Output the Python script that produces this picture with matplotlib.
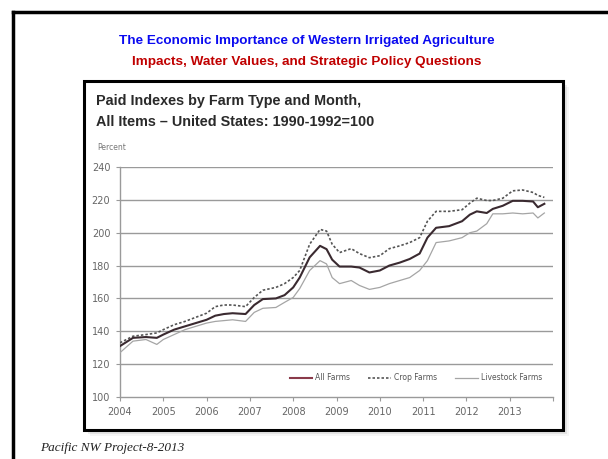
import matplotlib
matplotlib.use("Agg")
import matplotlib.pyplot as plt
from matplotlib.patches import Rectangle
from matplotlib.lines import Line2D

# month positions as decimal years
dates = [2004.0, 2004.3, 2004.6, 2004.85, 2005.0, 2005.25, 2005.5, 2005.75,
         2006.0, 2006.2, 2006.4, 2006.6, 2006.9, 2007.1, 2007.3, 2007.6,
         2007.8, 2008.0, 2008.15, 2008.38, 2008.62, 2008.77, 2008.9, 2009.07,
         2009.34, 2009.53, 2009.76, 2010.0, 2010.22, 2010.46, 2010.69, 2010.92,
         2011.1, 2011.3, 2011.6, 2011.9, 2012.08, 2012.24, 2012.47, 2012.61,
         2012.84, 2013.07, 2013.3, 2013.54, 2013.65, 2013.8]

all_farms = [131, 136, 136.5, 136, 138, 141, 143, 145,
             147, 149.5, 150.5, 151, 150.5, 156, 159.6, 160,
             162, 166.7, 172.7, 185, 192, 190, 183.6, 179.4,
             179.4, 178.8, 175.8, 177, 180, 181.8, 184, 187.3,
             197, 203, 204, 207, 211, 213, 212, 214.5,
             216.4, 219.4, 219.4, 219, 215.5, 217.6]

crop_farms = [133, 137, 138, 139, 141, 144, 146, 148.5,
              151, 155, 156, 156, 155, 160.6, 165, 166.7,
              169, 172.7, 177, 193, 202, 201, 193, 187.9,
              190.3, 187.3, 184.8, 186, 190.3, 192, 194, 197,
              207, 213, 213, 214, 218, 221, 219.6, 219.6,
              221, 225.5, 226, 224.5, 222.7, 221.5]

livestock_farms = [127, 134, 135, 132, 135, 138, 141, 143,
                   145, 146, 146.5, 147, 146, 151.5, 154, 154.5,
                   157.6, 160.6, 166, 177, 183, 181, 172.7, 169,
                   170.9, 167.9, 165.5, 166.7, 169, 170.9, 172.7, 177,
                   183, 194, 195, 197, 200, 201, 205.5, 211.5,
                   211.5, 212, 211.5, 212, 209, 212]

years = list(range(2004, 2015))
year_labels = [str(y) for y in range(2004, 2014)] + [""]
y_ticks = [100, 120, 140, 160, 180, 200, 220, 240]

W, H = 608, 459
fig = plt.figure(figsize=(W / 100, H / 100), dpi=100)
fig.patch.set_facecolor("white")


def fx(x):
    return x / W


def fy(y):
    return 1 - y / H


# slide frame
fig.add_artist(Line2D([fx(13), fx(13)], [fy(12), 0], color="black", lw=2.5))
fig.add_artist(Line2D([fx(13), 1], [fy(12), fy(12)], color="black", lw=2.5))

fig.text(fx(307), fy(41), "The Economic Importance of Western Irrigated Agriculture",
         ha="center", va="center", color="#0a0af0", fontsize=9.7, fontweight="bold",
         family=["Liberation Sans", "DejaVu Sans"])
fig.text(fx(307), fy(62), "Impacts, Water Values, and Strategic Policy Questions",
         ha="center", va="center", color="#c00000", fontsize=9.7, fontweight="bold",
         family=["Liberation Sans", "DejaVu Sans"])

# shadow and chart box (kept behind the axes)
for i, a in enumerate([0.10, 0.07, 0.04]):
    d = 2 + 2 * i
    fig.add_artist(Rectangle((fx(84 + d), fy(430 + d)), fx(479), 349 / H,
                             facecolor="black", alpha=a, edgecolor="none", zorder=-2))
fig.add_artist(Rectangle((fx(84), fy(430)), fx(479), 349 / H,
                         facecolor="white", edgecolor="black", lw=2.2, zorder=-1))

fig.text(fx(96), fy(101), "Paid Indexes by Farm Type and Month,", ha="left", va="center",
         fontsize=10.4, fontweight="bold", color="#2a2a2a", family=["Liberation Sans", "DejaVu Sans"])
fig.text(fx(96), fy(122), "All Items \u2013 United States: 1990-1992=100", ha="left", va="center",
         fontsize=10.4, fontweight="bold", color="#2a2a2a", family=["Liberation Sans", "DejaVu Sans"])
fig.text(fx(97), fy(147), "Percent", ha="left", va="center", fontsize=5.5, color="#777777")

ax = fig.add_axes([fx(120), fy(397), (553 - 120) / W, (397 - 167) / H])
ax.set_facecolor("none")
ax.set_zorder(2)
ax.set_xlim(2004, 2014)
ax.set_ylim(100, 240)

for v in y_ticks[1:]:
    ax.axhline(v, color="#9a9a9a", lw=1.0, zorder=1)

ax.plot(dates, livestock_farms, color="#a5a5a5", lw=0.9, label="Livestock Farms", zorder=3)
ax.plot(dates, crop_farms, color="#555555", lw=1.2, ls=(0, (1.5, 1.2)), label="Crop Farms", zorder=3)
ax.plot(dates, all_farms, color="#3a2a30", lw=1.5, label="All Farms", zorder=4)

for s in ["top", "right"]:
    ax.spines[s].set_visible(False)
for s in ["left", "bottom"]:
    ax.spines[s].set_color("#9a9a9a")
    ax.spines[s].set_linewidth(1.0)

ax.set_xticks(years)
ax.set_xticklabels(year_labels)
ax.set_yticks(y_ticks)
ax.tick_params(axis="both", colors="#9a9a9a", labelcolor="#666666", labelsize=7, length=3, width=0.8)
ax.tick_params(axis="x", pad=4)
ax.tick_params(axis="y", pad=4)

h, l = ax.get_legend_handles_labels()
order = [2, 1, 0]
leg = ax.legend([h[i] for i in order], [l[i] for i in order], ncol=3, frameon=False,
                loc="center", bbox_to_anchor=(0.683, 0.083), fontsize=5.5,
                handlelength=3.0, columnspacing=2.3, handletextpad=0.4)
for t in leg.get_texts():
    t.set_color("#555555")
leg.legend_handles[0].set_color("#8a3a4a")

fig.text(fx(40), fy(448), "Pacific NW Project-8-2013", ha="left", va="center",
         fontsize=9.5, style="italic", color="#222222", family=["Liberation Serif", "DejaVu Serif"])

fig.savefig("out.png", dpi=100)
